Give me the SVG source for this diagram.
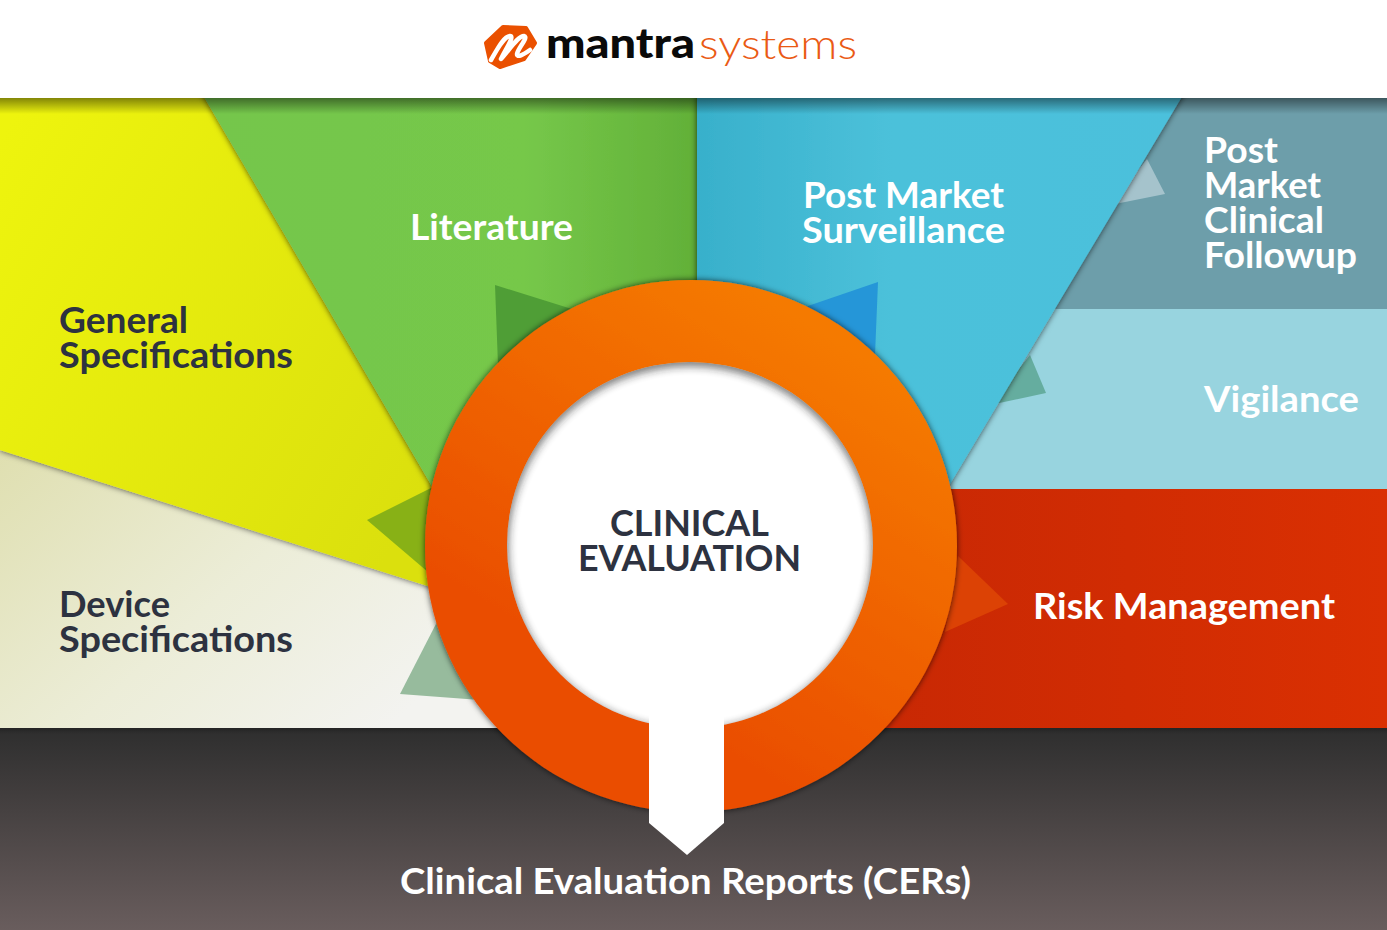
<svg xmlns="http://www.w3.org/2000/svg" width="1387" height="930" viewBox="0 0 1387 930">
<style>
.l{font-family:"Lato","Noto Sans",sans-serif;font-weight:700;font-size:37px}
.w{fill:#fff}.d{fill:#2d3240}
</style>
<defs>
<linearGradient id="gy" x1="0" y1="0.1" x2="1" y2="0.75"><stop offset="0" stop-color="#eef408"/><stop offset="1" stop-color="#dbe00f"/></linearGradient>
<linearGradient id="gg" x1="0" y1="0" x2="1" y2="0"><stop offset="0" stop-color="#74c64c"/><stop offset="0.65" stop-color="#76c84a"/><stop offset="1" stop-color="#62b038"/></linearGradient>
<linearGradient id="gb" x1="0" y1="0" x2="1" y2="0"><stop offset="0" stop-color="#38b0cb"/><stop offset="0.4" stop-color="#4cc1da"/><stop offset="1" stop-color="#4bc0dc"/></linearGradient>
<linearGradient id="gd" x1="0" y1="0" x2="1" y2="0.6"><stop offset="0" stop-color="#dfdfb0"/><stop offset="0.55" stop-color="#ecedd8"/><stop offset="1" stop-color="#f3f3f0"/></linearGradient>
<linearGradient id="gr" x1="0" y1="0" x2="1" y2="0"><stop offset="0" stop-color="#c82804"/><stop offset="1" stop-color="#da3002"/></linearGradient>
<linearGradient id="gk" x1="0" y1="0" x2="0" y2="1"><stop offset="0" stop-color="#2e2e2e"/><stop offset="1" stop-color="#695d5d"/></linearGradient>
<linearGradient id="go" x1="0.35" y1="0.75" x2="0.75" y2="0.1"><stop offset="0" stop-color="#ea4e00"/><stop offset="1" stop-color="#f57a00"/></linearGradient>
<linearGradient id="gt" x1="0" y1="0" x2="0" y2="1"><stop offset="0" stop-color="#000" stop-opacity="0.45"/><stop offset="1" stop-color="#000" stop-opacity="0"/></linearGradient>
<filter id="s" x="-10%" y="-10%" width="120%" height="120%"><feDropShadow dx="0" dy="0" stdDeviation="3" flood-color="#000" flood-opacity="0.7"/></filter>
<filter id="i" x="-10%" y="-10%" width="120%" height="120%"><feGaussianBlur stdDeviation="5"/></filter>
<clipPath id="body"><rect y="98" width="1387" height="832"/></clipPath>
<clipPath id="hole"><circle cx="690" cy="545" r="183"/></clipPath>
</defs>
<rect width="1387" height="930" fill="#fff"/>
<g id="logo">
<path d="M486 43L503 27L526 28L535 43L524 59L500 67L490 61Z" fill="#ea5000" stroke="#ea5000" stroke-width="4" stroke-linejoin="round"/>
<path d="M491 60C497 50 503 37 510 36C515 36 505 50 501 59C510 49 518 36 524 36C529 37 518 48 517 54C517 58 523 55 530 50" fill="none" stroke="#fff" stroke-width="4.5" stroke-linecap="round" stroke-linejoin="round"/>
<text x="546" y="58" font-family="Lato,sans-serif" font-weight="900" font-size="42" fill="#0a0a0a" textLength="149" lengthAdjust="spacingAndGlyphs">mantra</text>
<text x="699" y="59" font-family="Lato,sans-serif" font-weight="300" font-size="42" fill="#ea5a14" textLength="158" lengthAdjust="spacingAndGlyphs">systems</text>
</g>
<g clip-path="url(#body)">
<g id="panel-pmcf"><polygon points="1150,98 1387,98 1387,309 1030,309" fill="#6d9eaa"/><polygon points="1165,194 1147,159 1110,205" fill="#a5c3cc"/></g>
<g id="panel-vigilance"><polygon points="1030,309 1387,309 1387,489 930,489" fill="#98d4df"/><polygon points="1046,393 1030,355 990,405" fill="#65ad9f"/></g>
<g id="panel-risk"><polygon points="930,489 1387,489 1387,728 870,728" fill="url(#gr)"/><polygon points="1008,604 958,556 945,632" fill="#dc4205"/></g>
<g id="panel-device"><polygon points="0,450 440,590 510,728 0,728" fill="url(#gd)"/><polygon points="400,694 438,620 480,700" fill="#97bb9d"/></g>
<g id="panel-general"><polygon points="0,90 200,90 440,500 440,590 0,450" fill="url(#gy)" filter="url(#s)"/><polygon points="367,520 435,486 435,578" fill="#88b116"/></g>
<g id="panel-literature"><polygon points="200,90 697,90 697,500 440,500" fill="url(#gg)" filter="url(#s)"/><polygon points="495,285 575,310 498,365" fill="#4f9e36"/></g>
<g id="panel-surveillance"><polygon points="697,90 1186,90 950,484 697,500" fill="url(#gb)" filter="url(#s)"/><polygon points="878,282 805,307 875,355" fill="#2596d8"/></g>
<rect y="98" width="1387" height="16" fill="url(#gt)"/>
</g>
<g id="panel-reports"><rect y="728" width="1387" height="202" fill="url(#gk)"/><rect y="728" width="1387" height="6" fill="url(#gt)" opacity="0.5"/></g>
<g id="ring">
<circle cx="691" cy="546" r="266" fill="url(#go)" filter="url(#s)"/>
<circle cx="690" cy="545" r="183" fill="#fff"/>
<g clip-path="url(#hole)"><circle cx="690" cy="548" r="187" fill="none" stroke="#222" stroke-width="8" opacity="0.8" filter="url(#i)"/></g>
<polygon points="649,700 724,700 724,823 687,855 649,823" fill="#fff"/>
</g>
<g id="labels">
<text class="l d" x="610" y="536" textLength="159" lengthAdjust="spacingAndGlyphs">CLINICAL</text>
<text class="l d" x="578" y="571" textLength="223" lengthAdjust="spacingAndGlyphs">EVALUATION</text>
<text class="l d" x="59" y="333" textLength="129" lengthAdjust="spacingAndGlyphs">General</text>
<text class="l d" x="59" y="368" textLength="234" lengthAdjust="spacingAndGlyphs">Specifications</text>
<text class="l d" x="59" y="617" textLength="111" lengthAdjust="spacingAndGlyphs">Device</text>
<text class="l d" x="59" y="652" textLength="234" lengthAdjust="spacingAndGlyphs">Specifications</text>
<text class="l w" x="410" y="240" textLength="163" lengthAdjust="spacingAndGlyphs">Literature</text>
<text class="l w" x="803" y="208" textLength="201" lengthAdjust="spacingAndGlyphs">Post Market</text>
<text class="l w" x="802" y="243" textLength="203" lengthAdjust="spacingAndGlyphs">Surveillance</text>
<text class="l w" x="1204" y="163" textLength="74" lengthAdjust="spacingAndGlyphs">Post</text>
<text class="l w" x="1204" y="198" textLength="117" lengthAdjust="spacingAndGlyphs">Market</text>
<text class="l w" x="1204" y="233" textLength="120" lengthAdjust="spacingAndGlyphs">Clinical</text>
<text class="l w" x="1204" y="268" textLength="153" lengthAdjust="spacingAndGlyphs">Followup</text>
<text class="l w" x="1204" y="412" textLength="155" lengthAdjust="spacingAndGlyphs">Vigilance</text>
<text class="l w" x="1033" y="619" textLength="302" lengthAdjust="spacingAndGlyphs">Risk Management</text>
<text class="l w" x="400" y="894" textLength="571" lengthAdjust="spacingAndGlyphs">Clinical Evaluation Reports (CERs)</text>
</g>
</svg>
